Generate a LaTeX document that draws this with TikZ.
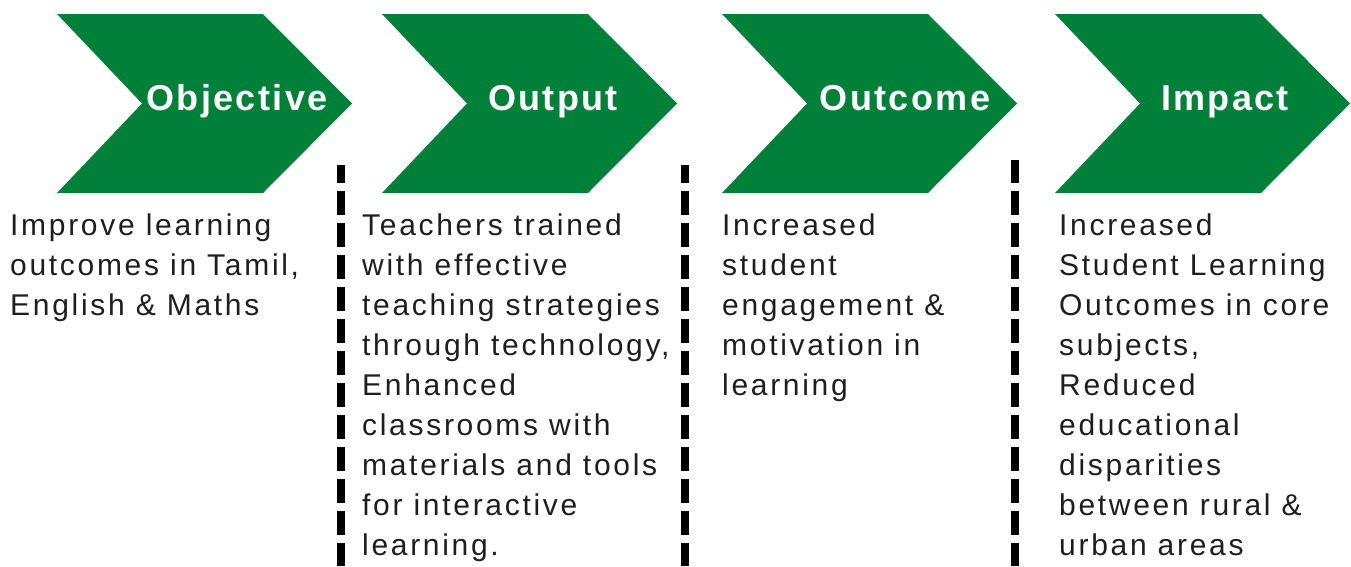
\documentclass[tikz,border=0pt]{standalone}
\usepackage{fontspec}
\setmainfont{Liberation Sans}
\newfontfamily\headfont[LetterSpace=6.5]{Liberation Sans}
\newfontfamily\bodyfont[LetterSpace=9]{Liberation Sans}
\definecolor{chevgreen}{RGB}{0,128,56}
\definecolor{bodytext}{RGB}{30,30,30}
\newcommand\chevronshape[1]{\fill[chev] (#1,14) -- ++(206,0) -- ++(89,89.5) -- ++(-89,89.5) -- ++(-206,0) -- ++(85,-89.5) -- cycle;}
\begin{document}
\begin{tikzpicture}[x=1pt,y=-1pt,
  chev/.style={fill=chevgreen},
  head/.style={text=white, font=\headfont\bfseries\fontsize{36}{40}\selectfont, inner sep=0pt, anchor=base},
  body/.style={text=bodytext, font=\bodyfont\fontsize{30}{40}\selectfont, align=left, inner sep=0pt, anchor=base west},
  sep/.style={draw=black, line width=8pt, dash pattern=on 24pt off 8pt}]
\useasboundingbox (0,0) rectangle (1351,566);
\chevronshape{57}
\chevronshape{382}
\chevronshape{722}
\chevronshape{1055}
\node[head] (h1) at (237,110) {Objective};
\node[head] (h2) at (553,110) {Output};
\node[head] (h3) at (905,110) {Outcome};
\node[head] (h4) at (1225,110) {Impact};
\draw[sep, dash phase=6pt] (341,165) -- (341,566);
\draw[sep, dash phase=6pt] (685,165) -- (685,566);
\draw[sep, dash phase=1pt] (1015,160) -- (1015,566);
% anchor base = baseline of last line; first baseline at 235, 40pt apart
\node[body] (b1) at (10,315) {Improve learning\\outcomes in Tamil,\\English \& Maths};
\node[body] (b2) at (362,555) {Teachers trained\\with effective\\teaching strategies\\through technology,\\Enhanced\\classrooms with\\materials and tools\\for interactive\\learning.};
\node[body] (b3) at (722,395) {Increased\\student\\engagement \&\\motivation in\\learning};
\node[body] (b4) at (1059,555) {Increased\\Student Learning\\Outcomes in core\\subjects,\\Reduced\\educational\\disparities\\between rural \&\\urban areas};
\end{tikzpicture}
\end{document}
